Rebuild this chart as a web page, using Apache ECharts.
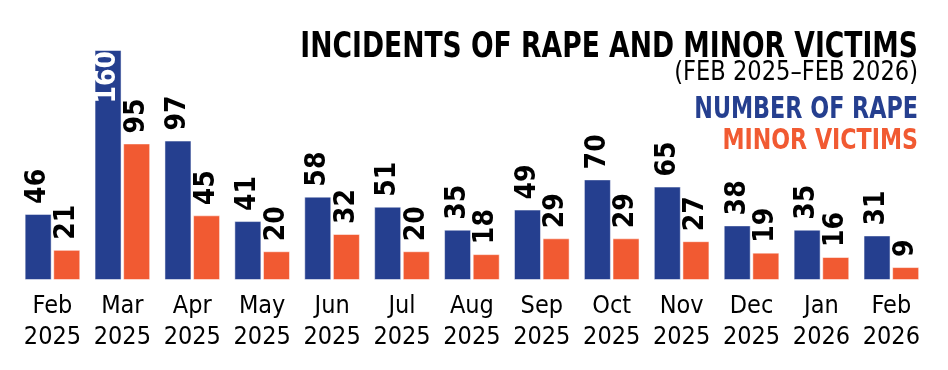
<!DOCTYPE html>
<html><head><meta charset="utf-8">
<script src="https://cdn.jsdelivr.net/npm/echarts@6/dist/echarts.min.js"></script>
<style>html,body{margin:0;padding:0;background:#fff}#c{width:948px;height:370px}</style>
</head><body><div id="c"></div>
<script>
const categories = ["Feb\n2025","Mar\n2025","Apr\n2025","May\n2025","Jun\n2025","Jul\n2025","Aug\n2025","Sep\n2025","Oct\n2025","Nov\n2025","Dec\n2025","Jan\n2026","Feb\n2026"];
const rapeCases = [46,160,97,41,58,51,35,49,70,65,38,35,31];
const minorVictims = [21,95,45,20,32,20,18,29,29,27,19,16,9];
const titleText = "INCIDENTS OF RAPE AND MINOR VICTIMS";
const subtitleText = "(FEB 2025\u2013FEB 2026)";
const legendNames = ["NUMBER OF RAPE","MINOR VICTIMS"];

const BLUE = '#253f8f', ORANGE = '#f15a32';
const FF = "'DejaVu Sans Condensed',sans-serif";
const chart = echarts.init(document.getElementById('c'));
const lbl = {show:true, position:'top', rotate:90, align:'left', verticalAlign:'middle', distance:10,
  fontSize:28, fontWeight:'bold', fontFamily:FF, color:'#000'};
const blueData = rapeCases.map((v,i)=> i===1 ? {value:v, label:{position:'insideTop', align:'right', distance:1, color:'#fff'}} : v);
const RX = 918;
chart.setOption({
  animation:false,
  grid:{left:17.5, right:21.7, top:50, bottom:90},
  xAxis:{type:'category', data:categories, axisLine:{show:false}, axisTick:{show:false},
    axisLabel:{fontSize:25, fontFamily:FF, color:'#000', lineHeight:31, margin:11, interval:0}},
  yAxis:{type:'value', min:0, max:160, show:false, splitLine:{show:false}},
  series:[
    {name:legendNames[0], type:'bar', data:blueData, barWidth:27, barGap:'6%',
     itemStyle:{color:BLUE, borderColor:'rgba(255,255,255,0.5)', borderWidth:1}, label:lbl},
    {name:legendNames[1], type:'bar', data:minorVictims, barWidth:27,
     itemStyle:{color:ORANGE, borderColor:'rgba(255,255,255,0.5)', borderWidth:1}, label:lbl}
  ],
  graphic:[
    {type:'text', x:RX, y:30, scaleX:0.845, style:{text:titleText, align:'right', verticalAlign:'top', fontSize:35, fontWeight:'bold', fontFamily:FF, fill:'#000'}},
    {type:'text', x:RX, y:59, scaleX:0.93, style:{text:subtitleText, align:'right', verticalAlign:'top', fontSize:27, fontFamily:FF, fill:'#000'}},
    {type:'text', x:RX, y:95, scaleX:0.825, style:{text:legendNames[0], align:'right', verticalAlign:'top', fontSize:30, fontWeight:'bold', fontFamily:FF, fill:BLUE}},
    {type:'text', x:RX, y:127, scaleX:0.85, style:{text:legendNames[1], align:'right', verticalAlign:'top', fontSize:29, fontWeight:'bold', fontFamily:FF, fill:ORANGE}}
  ]
});
</script></body></html>
